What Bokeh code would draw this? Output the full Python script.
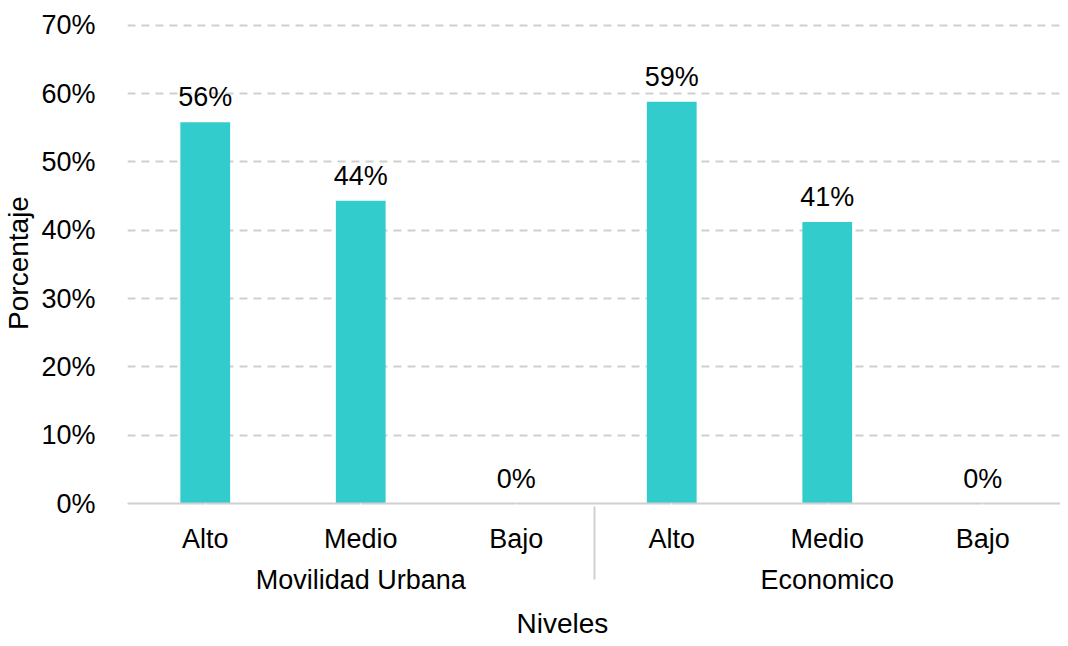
from bokeh.plotting import figure
from bokeh.models import (FactorRange, Range1d, FixedTicker, PrintfTickFormatter,
                          LabelSet, ColumnDataSource, Title)
from bokeh.core.properties import value
from bokeh.embed import file_html
from bokeh.resources import INLINE

groups = ["Movilidad Urbana", "Economico"]
levels = ["Alto", "Medio", "Bajo"]
values = [55.8, 44.3, 0.0, 58.8, 41.2, 0.0]
y_ticks = [0, 10, 20, 30, 40, 50, 60, 70]

factors = [(g, l) for g in groups for l in levels]
labels = [f"{round(v)}%" for v in values]

src = ColumnDataSource(dict(x=factors, top=values, label=labels))

FONT = "Liberation Sans"

p = figure(
    width=1060, height=646,
    x_range=FactorRange(*factors, range_padding=0, group_padding=0, factor_padding=0),
    y_range=Range1d(0, 70.4),
    output_backend="svg", toolbar_location=None,
    min_border_left=119, min_border_right=0, min_border_top=22, min_border_bottom=0,
)
p.outline_line_color = None
p.background_fill_color = "white"
p.border_fill_color = "white"

p.vbar(x="x", top="top", width=0.32, source=src, fill_color="#33CCCC", line_color=None)

lbl = LabelSet(x="x", y="top", text="label", source=src, y_offset=16,
               text_align="center", text_baseline="alphabetic",
               text_font=value(FONT), text_font_size="27px", text_color="#000000")
p.add_layout(lbl)

# y axis
p.yaxis.ticker = FixedTicker(ticks=y_ticks)
p.yaxis.formatter = PrintfTickFormatter(format="%d%%")
p.yaxis.axis_line_color = None
p.yaxis.major_tick_line_color = None
p.yaxis.minor_tick_line_color = None
p.yaxis.major_label_text_font = FONT
p.yaxis.major_label_text_font_size = "27px"
p.yaxis.major_label_text_color = "#000000"
p.yaxis.major_label_standoff = 26
p.yaxis.axis_label = "Porcentaje"
p.yaxis.axis_label_text_font = FONT
p.yaxis.axis_label_text_font_size = "28px"
p.yaxis.axis_label_text_font_style = "normal"
p.yaxis.axis_label_text_color = "#000000"
p.yaxis.axis_label_standoff = 4

# x axis
xa = p.xaxis[0]
xa.axis_line_color = "#D0D0D0"
xa.axis_line_width = 2
xa.major_tick_out = 12
xa.major_tick_in = 0
xa.major_tick_line_color = "white"
xa.major_tick_line_width = 1
xa.minor_tick_line_color = None
xa.major_label_text_font = FONT
xa.major_label_text_font_size = "27px"
xa.major_label_text_color = "#000000"
xa.major_label_standoff = 8
xa.group_text_font = FONT
xa.group_text_font_size = "27px"
xa.group_text_color = "#000000"
xa.group_text_font_style = "normal"
xa.separator_line_color = "#D0D0D0"
xa.separator_line_width = 2

p.add_layout(Title(text="Niveles", align="left", offset=389, standoff=16,
                   text_font=FONT, text_font_size="28px", text_font_style="normal",
                   text_color="#000000"), "below")

p.xgrid.grid_line_color = None
p.ygrid.grid_line_color = "#D0D0D0"
p.ygrid.grid_line_width = 2
p.ygrid.grid_line_dash = "8 6"

open("out.html", "w").write(file_html(p, INLINE))
